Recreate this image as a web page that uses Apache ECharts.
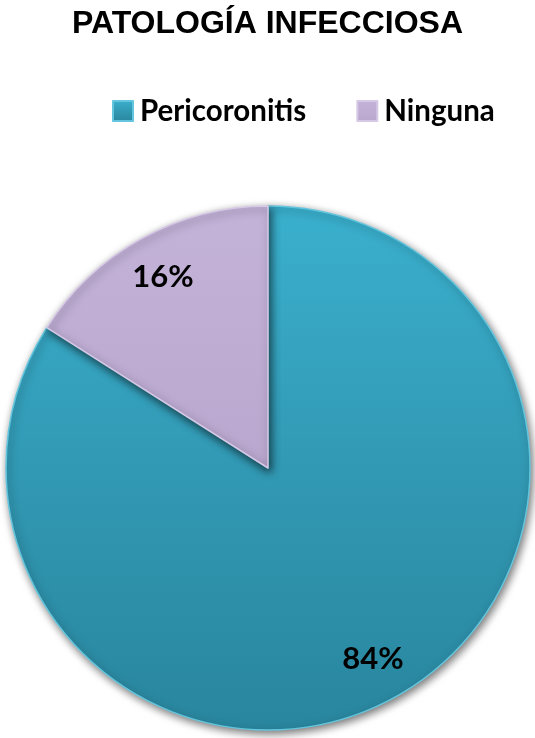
<!DOCTYPE html>
<html>
<head>
<meta charset="utf-8">
<script src="https://cdn.jsdelivr.net/npm/echarts@6/dist/echarts.min.js"></script>
<style>
  html, body { margin: 0; padding: 0; background: #ffffff; }
  #chart { width: 535px; height: 738px; }
</style>
</head>
<body>
<div id="chart"></div>
<script>
// Infectious pathology share
const categories = ['Pericoronitis', 'Ninguna'];
const values = [84, 16];
const labelsText = ['84%', '16%'];

const fills = [
  new echarts.graphic.LinearGradient(0, 0, 0, 1, [
    { offset: 0, color: '#3AB0CE' },
    { offset: 0.5, color: '#3299B4' },
    { offset: 1, color: '#29869E' }
  ]),
  new echarts.graphic.LinearGradient(0, 0, 0, 1, [
    { offset: 0, color: '#C4B3D9' },
    { offset: 1, color: '#BAA7CF' }
  ])
];
const edges = ['#64C6DE', '#D6C9E6'];

const center = [268, 468];
const outer = 262;

const chart = echarts.init(document.getElementById('chart'), null, { renderer: 'canvas' });

const pieData = categories.map((name, i) => ({
  name,
  value: values[i],
  itemStyle: { color: fills[i], borderColor: edges[i] }
}));

chart.setOption({
  animation: false,
  title: {
    text: 'PATOLOGÍA INFECCIOSA',
    left: 'center',
    top: 3,
    textStyle: {
      fontFamily: 'Liberation Sans, Arial, sans-serif',
      fontWeight: 'bold',
      fontSize: 32,
      color: '#000000'
    }
  },
  legend: {
    data: categories,
    top: 91,
    left: 107,
    itemWidth: 20,
    itemHeight: 20,
    itemGap: 50,
    icon: 'rect',
    textStyle: {
      fontFamily: 'Lato, sans-serif',
      fontWeight: 'bold',
      fontSize: 29.5,
      color: '#000000',
      padding: [0, 0, 0, 2]
    }
  },
  series: [
    {
      name: 'Patología',
      type: 'pie',
      center: center,
      radius: [0, outer],
      startAngle: 90,
      clockwise: true,
      silent: true,
      label: { show: false },
      labelLine: { show: false },
      itemStyle: {
        borderWidth: 1.5,
        shadowColor: 'rgba(0,0,0,0.55)',
        shadowBlur: 8,
        shadowOffsetX: 2,
        shadowOffsetY: 3
      },
      data: pieData
    },
    {
      // transparent ring that carries the percentage labels
      name: 'Etiquetas',
      type: 'pie',
      center: center,
      radius: [168, outer],
      startAngle: 90,
      clockwise: true,
      silent: true,
      legendHoverLink: false,
      itemStyle: { color: 'rgba(0,0,0,0)', borderWidth: 0 },
      label: {
        show: true,
        position: 'inside',
        formatter: (p) => labelsText[p.dataIndex],
        fontFamily: 'Lato, sans-serif',
        fontWeight: 'bold',
        fontSize: 31,
        color: '#000000'
      },
      labelLine: { show: false },
      data: categories.map((name, i) => ({ name: name + ' ', value: values[i] }))
    }
  ]
});
</script>
</body>
</html>
